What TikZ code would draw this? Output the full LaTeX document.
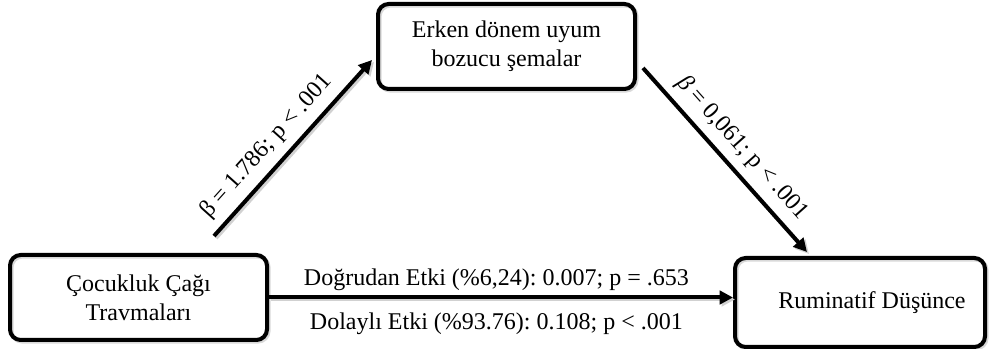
\documentclass[tikz,border=0pt]{standalone}
\usepackage{fontspec}
\setmainfont{Liberation Serif}
\usetikzlibrary{arrows.meta,calc}
\frenchspacing
\begin{document}
\begin{tikzpicture}[x=0.75pt,y=-0.75pt,
  box/.style={draw, line width=3pt, rounded corners=8pt, align=center,
    font=\fontsize{18}{21.5}\selectfont, inner sep=0pt,
    preaction={draw=black!15, line width=3pt, transform canvas={shift={(1.2pt,-1.2pt)}}}},
  arr/.style={line width=3pt, -{Triangle[length=10pt,width=10pt]},
    preaction={draw=black!18, line width=3pt, transform canvas={shift={(1.5pt,-1.5pt)}}}},
  lbl/.style={font=\fontsize{18}{21}\selectfont\frenchspacing, inner sep=0pt}]
\useasboundingbox (0,0) rectangle (990,349);
\node[box, minimum width=192.75pt, minimum height=63.75pt] (T) at (506.5,46.5) {Erken dönem uyum\\bozucu şemalar};
\node[box, minimum width=192.75pt, minimum height=63.75pt] (L) at (138.5,297.5) {Çocukluk Çağı\\Travmaları};
\node[box, minimum width=187.5pt, minimum height=66.75pt] (R) at (860,302.5) {\hspace*{18pt}Ruminatif Düşünce};
\draw[arr] ([shift={(-55,-17)}]L.north east) -- ([shift={(-4,-31)}]T.south west)
  node[lbl, sloped, pos=0.43, above=6pt] {β = 1.786; p < .001};
\draw[arr] ([shift={(6,-23)}]T.south east) -- ([shift={(74,-4)}]R.north west)
  node[lbl, sloped, pos=0.51, above=6pt] {\textit{β} = 0,061; p < .001};
\draw[arr] (L.east) -- (L.east -| R.west)
  node[lbl, pos=0.49, above=3.5pt] {Doğrudan Etki (\%6,24): 0.007; p = .653}
  node[lbl, pos=0.49, below=10pt] {Dolaylı Etki (\%93.76): 0.108; p < .001};
\end{tikzpicture}
\end{document}
